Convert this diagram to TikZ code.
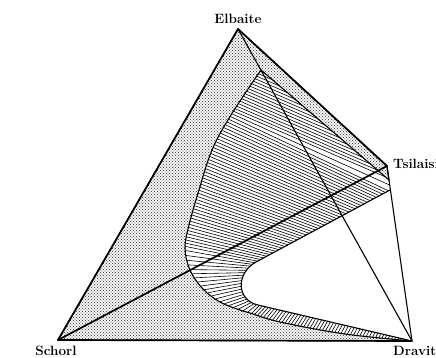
\documentclass[tikz,border=0pt]{standalone}
\usepackage{fontspec}
\usetikzlibrary{decorations.markings,patterns}

\pgfdeclarepatternformonly{stipple}{\pgfqpoint{-.9pt}{-.9pt}}{\pgfqpoint{2.4pt}{2.4pt}}{\pgfqpoint{3pt}{3pt}}%
{\pgfpathcircle{\pgfqpoint{0pt}{0pt}}{.7pt}\pgfpathcircle{\pgfqpoint{1.5pt}{1.5pt}}{.7pt}\pgfusepath{fill}}

\tikzset{ties/.style 2 args={decorate,decoration={markings,
  mark=between positions 0.5/#2 and 1 step 1/#2 with
  {\coordinate (#1\pgfkeysvalueof{/pgf/decoration/mark info/sequence number});}}}}

\begin{document}
\begin{tikzpicture}[x=1pt,y=-1pt]
\tikzstyle{edge}=[line width=1.7pt,line cap=round,line join=round]
\tikzstyle{rim}=[line width=1.1pt]
\tikzstyle{tie}=[line width=.6pt]
\tikzstyle{lab}=[font=\fontsize{13.5}{15}\selectfont\bfseries,inner sep=0pt]
   \clip (0,0) rectangle (436,358);
   \coordinate (el) at (238,29);
   \coordinate (sc) at (58,340);
   \coordinate (dr) at (412,341);
   \coordinate (ts) at (387,166);
   \coordinate (p1) at (261,70);
   \coordinate (q1) at (389,180);
   \coordinate (q2) at (390,190);
   \coordinate (h1) at (256,262);
   \coordinate (h2) at (258,305);

   % tie lines: matching pieces of the two sides of the gap
   \path [ties={la}{18}] (p1) -- (231,115);
   \path [ties={ra}{18}] (p1) -- (q1) -- (q2);
   \path [ties={lb}{44}] (231,115) -- (212,150) -- (199,190) -- (189,225) -- (186,237) -- (185,248);
   \path [ties={rb}{44}] (q2) -- (h1);
   \path [ties={lc}{20}] (185,248) -- (186,259) -- (190,270) -- (203,289) -- (220,302) -- (240,310) -- (250,313);
   \path [ties={rc}{20}] (h1) .. controls (236,273) and (236,300) .. (h2);
   \path [ties={ld}{52}] (250,313) -- (280,322) -- (312,329) -- (345,334) -- (380,338) -- (dr);
   \path [ties={rd}{52}] (h2) -- (dr);
   \foreach \i in {1,...,18} \path [draw,tie] (la\i) -- (ra\i) ;
   \foreach \i in {1,...,44} \path [draw,tie] (lb\i) -- (rb\i) ;
   \foreach \i in {1,...,20} \path [draw,tie] (lc\i) -- (rc\i) ;
   \foreach \i in {1,...,52} \path [draw,tie] (ld\i) -- (rd\i) ;

   % stippled part
   \path [draw,rim,pattern=stipple,pattern color=black!70] (el) -- (ts) -- (q1) -- (p1) -- plot [smooth,tension=.6] coordinates {(261,70) (231,115) (212,150) (199,190) (189,225) (185,248) (190,270) (203,289) (220,302) (240,310) (250,313) (280,322) (345,334) (412,341)} -- (sc) -- cycle ;
   \path [draw,rim] (q2) -- (h1) .. controls (236,273) and (236,300) .. (h2) -- (dr) ;

   \path [draw,edge] (el) -- (sc) -- (dr) ;
   \path [draw,edge] (el) -- (ts) ;
   \path [draw,rim] (ts) -- (dr) ;
   \path [draw,rim] (el) -- (dr) ;
   \path [draw,edge] (sc) -- (ts) ;

   \draw (238,18.5) node (elbaite) [lab] {Elbaite};
   \draw (56,355.5) node (schorl) [lab,anchor=base] {Schorl};
   \draw (393,355.5) node (dravite) [lab,anchor=base west] {Dravite};
   \draw (393,168) node (tsilaisite) [lab,anchor=base west] {Tsilaisite};
\end{tikzpicture}
\end{document}
